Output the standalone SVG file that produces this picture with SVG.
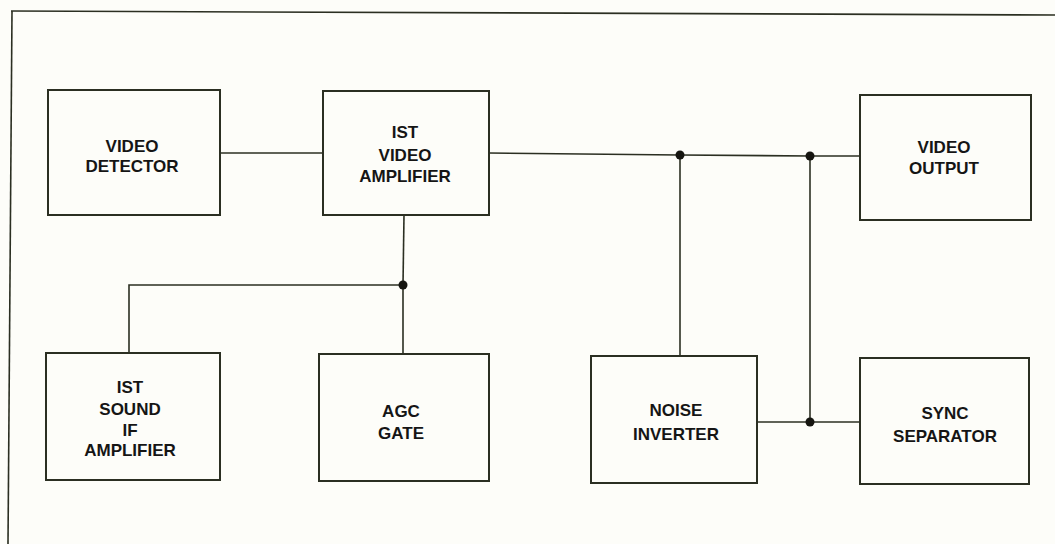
<svg xmlns="http://www.w3.org/2000/svg" width="1055" height="544" viewBox="0 0 1055 544">
<style>
.box{fill:none;stroke:#2b2f22;stroke-width:2}
.ln{fill:none;stroke:#2b2f22;stroke-width:1.6}
.dot{fill:#151510}
text{font-family:"Liberation Sans",Arial,sans-serif;font-size:17px;font-weight:bold;fill:#151515;text-anchor:middle}
</style>
<rect width="1055" height="544" fill="#fdfdf9"/>
<g id="frame">
<path class="ln" d="M11 11 L1055 15"/>
<path class="ln" d="M12 11 L8 544"/>
</g>
<g id="connectors">
<path class="ln" d="M220 153 L323 153"/>
<path class="ln" d="M489 153 L680 155 L810 156 L860 156"/>
<path class="ln" d="M404 215 L403 285"/>
<path class="ln" d="M129 353 L129 285 L403 285 L403 354"/>
<path class="ln" d="M680 155 L680 356"/>
<path class="ln" d="M810 156 L810 422"/>
<path class="ln" d="M757 422 L860 422"/>
<circle class="dot" cx="403" cy="285" r="4.5"/>
<circle class="dot" cx="680" cy="155" r="4.5"/>
<circle class="dot" cx="810" cy="156" r="4.5"/>
<circle class="dot" cx="810" cy="422" r="4.5"/>
</g>
<g id="video-detector">
<rect class="box" x="48" y="90" width="172" height="125"/>
<text x="132" y="152">VIDEO</text>
<text x="132" y="172">DETECTOR</text>
</g>
<g id="video-amplifier">
<rect class="box" x="323" y="91" width="166" height="124"/>
<text x="405" y="138">IST</text>
<text x="405" y="161">VIDEO</text>
<text x="405" y="182">AMPLIFIER</text>
</g>
<g id="video-output">
<rect class="box" x="860" y="95" width="171" height="125"/>
<text x="944" y="153">VIDEO</text>
<text x="944" y="174">OUTPUT</text>
</g>
<g id="sound-if-amplifier">
<rect class="box" x="46" y="353" width="174" height="127"/>
<text x="130" y="393">IST</text>
<text x="130" y="415">SOUND</text>
<text x="130" y="436">IF</text>
<text x="130" y="456">AMPLIFIER</text>
</g>
<g id="agc-gate">
<rect class="box" x="319" y="354" width="170" height="127"/>
<text x="401" y="417">AGC</text>
<text x="401" y="439">GATE</text>
</g>
<g id="noise-inverter">
<rect class="box" x="591" y="356" width="166" height="127"/>
<text x="676" y="416">NOISE</text>
<text x="676" y="440">INVERTER</text>
</g>
<g id="sync-separator">
<rect class="box" x="860" y="358" width="169" height="126"/>
<text x="945" y="419">SYNC</text>
<text x="945" y="442">SEPARATOR</text>
</g>
</svg>
